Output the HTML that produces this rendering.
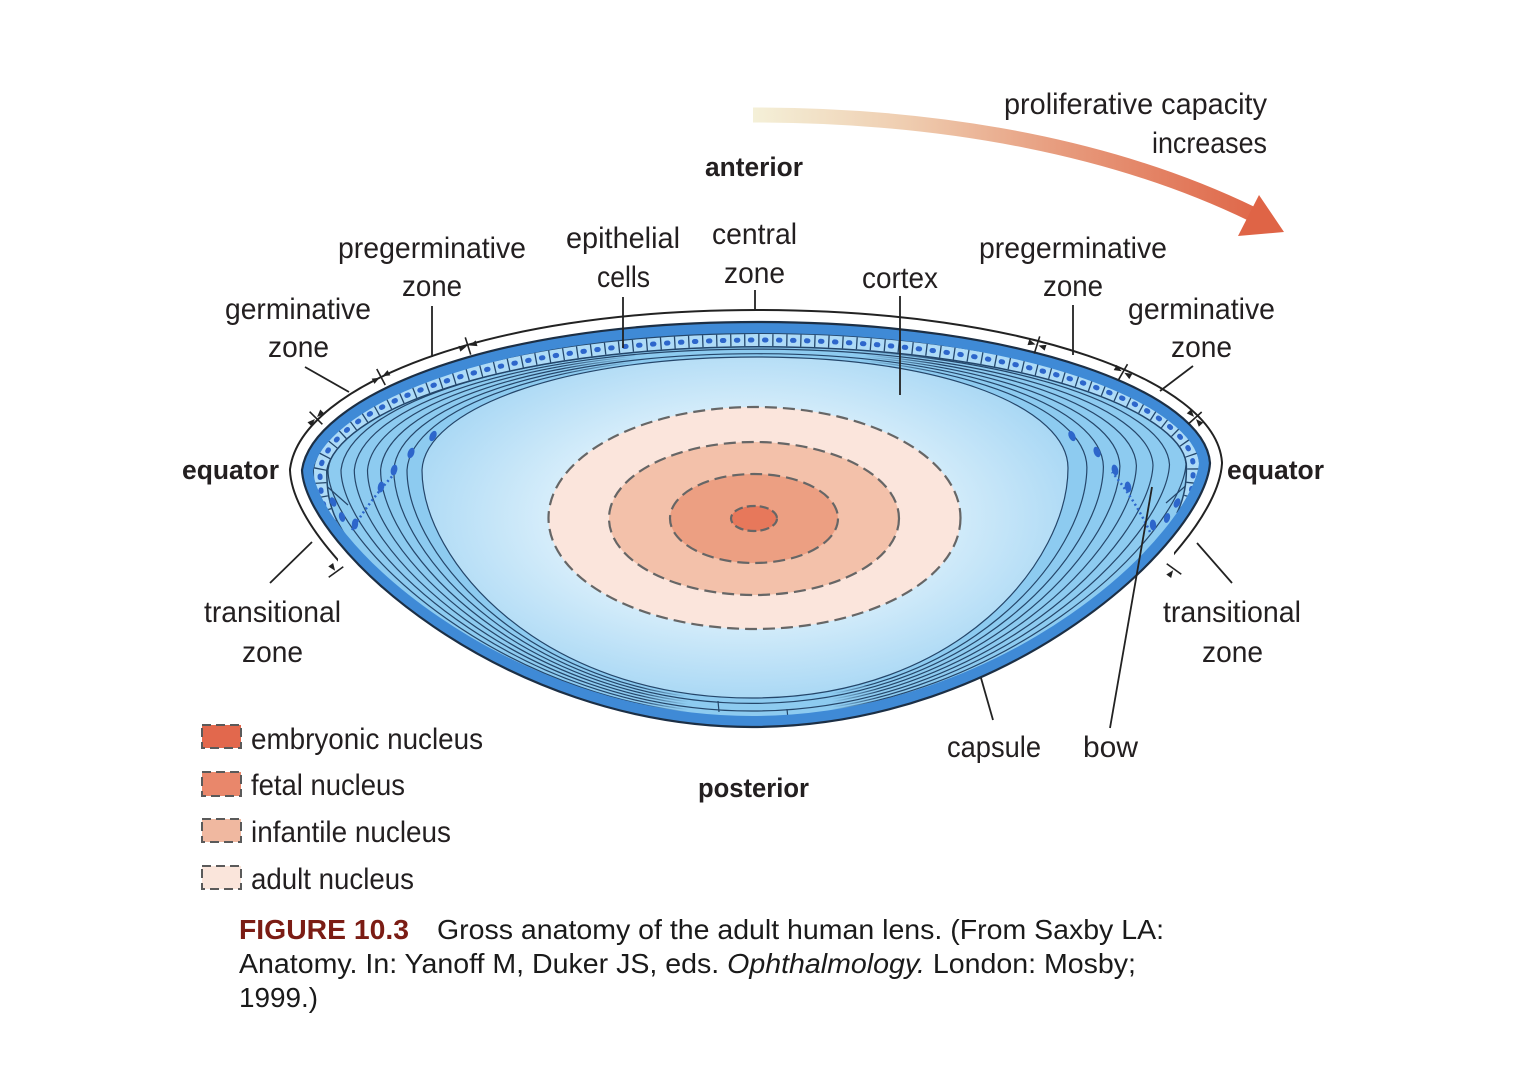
<!DOCTYPE html>
<html>
<head>
<meta charset="utf-8">
<style>
html,body{margin:0;padding:0;background:#fff;}
svg{display:block;}
text{font-family:"Liberation Sans",sans-serif;fill:#231f20;}
.l{font-size:30px;}
.b{font-size:27px;font-weight:bold;}
.lg{font-size:30px;}
.cap{font-size:28px;fill:#1a1a1a;}
</style>
</head>
<body>
<svg width="1520" height="1076" viewBox="0 0 1520 1076" xmlns="http://www.w3.org/2000/svg">
<defs>
  <linearGradient id="ag" gradientUnits="userSpaceOnUse" x1="753" y1="0" x2="1262" y2="0">
    <stop offset="0" stop-color="#f4f0d8"/>
    <stop offset="0.3" stop-color="#efcdb0"/>
    <stop offset="0.6" stop-color="#e79c7e"/>
    <stop offset="1" stop-color="#df6648"/>
  </linearGradient>
  <radialGradient id="cg" cx="0.5" cy="0.47" r="0.6">
    <stop offset="0" stop-color="#f2f9fe"/>
    <stop offset="0.45" stop-color="#dcf0fb"/>
    <stop offset="0.8" stop-color="#b4ddf6"/>
    <stop offset="1" stop-color="#9dd2f2"/>
  </radialGradient>
  <linearGradient id="fade" x1="0" x2="1" y1="0" y2="0">
    <stop offset="0" stop-color="#fff"/>
    <stop offset="0.2" stop-color="#000"/>
    <stop offset="0.8" stop-color="#000"/>
    <stop offset="1" stop-color="#fff"/>
  </linearGradient>
  <mask id="fm" maskUnits="userSpaceOnUse" x="0" y="0" width="1520" height="1076">
    <rect x="0" y="0" width="1520" height="1076" fill="#fff"/>
    <rect x="560" y="330" width="380" height="48" fill="url(#fade)"/>
    <rect x="640" y="686" width="240" height="36" fill="url(#fade)"/>
  </mask>
  <clipPath id="lc">
    <path d="M302,470 C312,400 480,322 757,322 C1030,322 1205,395 1210,463 C1205,540 1010,727 752,727 C500,727 305,545 302,470 Z"/>
  </clipPath>
  <clipPath id="bc">
    <rect x="0" y="0" width="1520" height="470"/>
    <rect x="0" y="470" width="338" height="160"/>
    <rect x="1174" y="470" width="346" height="160"/>
  </clipPath>
</defs>

<rect x="0" y="0" width="1520" height="1076" fill="#fff"/>

<!-- bracket ring -->
<g clip-path="url(#bc)">
  <path d="M302,470 C312,400 480,322 757,322 C1030,322 1205,395 1210,463 C1205,540 1010,727 752,727 C500,727 305,545 302,470 Z" fill="none" stroke="#222" stroke-width="26"/>
  <path d="M302,470 C312,400 480,322 757,322 C1030,322 1205,395 1210,463 C1205,540 1010,727 752,727 C500,727 305,545 302,470 Z" fill="none" stroke="#fff" stroke-width="22"/>
</g>

<!-- lens fill (fibre region) -->
<path d="M302,470 C312,400 480,322 757,322 C1030,322 1205,395 1210,463 C1205,540 1010,727 752,727 C500,727 305,545 302,470 Z" fill="#8dcbf0"/>

<!-- core -->
<path d="M422,470 C425,410 560,357 757,357 C950,357 1068,410 1068,468 C1068,560 960,698 752,698 C540,698 422,560 422,470 Z" fill="url(#cg)"/>

<!-- nuclei -->
<g stroke="#666" stroke-width="2.2" stroke-dasharray="12 6">
  <ellipse cx="754.5" cy="518" rx="206" ry="111" fill="#fbe5dc"/>
  <ellipse cx="754" cy="518.5" rx="145" ry="76.5" fill="#f3c1aa"/>
  <ellipse cx="754" cy="518.5" rx="84" ry="44.5" fill="#ec9f82"/>
  <ellipse cx="754" cy="518.5" rx="23" ry="12.5" fill="#e7785b" stroke-dasharray="9 4"/>
</g>

<!-- fibre lines -->
<g fill="none" stroke="#25466a" stroke-width="1.2" clip-path="url(#lc)">
  <g mask="url(#fm)">
    <path d="M328,470 C336,405 500,346 757,346 C1010,346 1182,405 1186,464 C1182,535 1000,716 752,716 C505,716 328,540 328,470 Z"/>
    <path d="M341,470 C348.5,405.7 508.4,347.5 757,347.5 C1001.6,347.5 1166,405.7 1169.5,464.6 C1166,538.5 994.4,713.5 752,713.5 C509.9,713.5 341.2,542.8 341,470 Z"/>
    <path d="M367.5,470 C373.4,407.1 525.2,350.6 757,350.6 C984.8,350.6 1134.1,407.1 1136.4,465.7 C1134.1,545.5 983.2,708.4 752,708.4 C519.7,708.4 367.5,548.4 367.5,470 Z"/>
    <path d="M380.6,470 C385.8,407.8 533.6,352.2 757,352.2 C976.4,352.2 1118.2,407.8 1119.9,466.2 C1118.2,549 977.6,705.9 752,705.9 C524.6,705.9 380.6,551.2 380.6,470 Z"/>
    <path d="M407,470 C410.8,409.2 550.4,355.2 757,355.2 C959.6,355.2 1086.2,409.2 1086.9,467.4 C1086.2,556 966.4,700.9 752,700.9 C534.4,700.9 407,556.8 407,470 Z"/>
  </g>
  <path d="M354.3,470 C360.9,406.4 516.8,349.1 757,349.1 C993.2,349.1 1150.1,406.4 1153,465.1 C1150.1,542 988.8,711 752,711 C514.8,711 354.3,545.6 354.3,470 Z"/>
  <path d="M393.8,470 C398.3,408.5 542,353.7 757,353.7 C968,353.7 1102.2,408.5 1103.4,466.8 C1102.2,552.5 972,703.4 752,703.4 C529.5,703.4 393.8,554 393.8,470 Z"/>
  <path d="M422,470 C425,410 560,357 757,357 C950,357 1068,410 1068,468 C1068,560 960,698 752,698 C540,698 422,560 422,470 Z"/>
  <!-- sutures at posterior pole -->
  <line x1="718" y1="701" x2="719" y2="712"/>
  <line x1="787" y1="709" x2="788" y2="719"/>
  <!-- transitional diagonal lines -->
  <line x1="314" y1="475" x2="348" y2="505"/>
  <line x1="322" y1="494" x2="348" y2="540"/>
  <line x1="331" y1="512" x2="354" y2="556"/>
  <line x1="1198" y1="475" x2="1166" y2="503"/>
  <line x1="1189" y1="497" x2="1163" y2="540"/>
  <line x1="1182" y1="515" x2="1158" y2="556"/>
</g>

<!-- bow nuclei -->
<g fill="#2d66cb">
  <ellipse cx="433" cy="436" rx="3.2" ry="5.5" transform="rotate(25 433 436)"/>
  <ellipse cx="411" cy="453" rx="3.2" ry="5.5" transform="rotate(20 411 453)"/>
  <ellipse cx="394" cy="470" rx="3.2" ry="5.5" transform="rotate(15 394 470)"/>
  <ellipse cx="381" cy="487" rx="3.2" ry="5.5" transform="rotate(10 381 487)"/>
  <ellipse cx="355" cy="524" rx="3.2" ry="5.5" transform="rotate(5 355 524)"/>
  <ellipse cx="1072" cy="436" rx="3.2" ry="5.5" transform="rotate(-25 1072 436)"/>
  <ellipse cx="1097" cy="452" rx="3.2" ry="5.5" transform="rotate(-20 1097 452)"/>
  <ellipse cx="1115" cy="470" rx="3.2" ry="5.5" transform="rotate(-15 1115 470)"/>
  <ellipse cx="1128" cy="487" rx="3.2" ry="5.5" transform="rotate(-10 1128 487)"/>
  <ellipse cx="1153" cy="525" rx="3.2" ry="5.5" transform="rotate(-5 1153 525)"/>
</g>
<g fill="none" stroke="#2d66cb" stroke-width="2.5" stroke-dasharray="2 3">
  <path d="M352,530 Q370,500 396,472"/>
  <path d="M1150,532 Q1135,500 1112,472"/>
</g>

<!-- epithelium -->
<g fill="none" clip-path="url(#lc)">
  <path d="M331,524 C322,506 320,490 320,470 C331,405 500,341 757,340 C1016,340 1186,402 1193,463 C1194,485 1190,502 1183,516" stroke="#23466b" stroke-width="15"/>
  <path d="M331,524 C322,506 320,490 320,470 C331,405 500,341 757,340 C1016,340 1186,402 1193,463 C1194,485 1190,502 1183,516" stroke="#aedbf7" stroke-width="12"/>
  <path d="M331,524 C322,506 320,490 320,470 C331,405 500,341 757,340 C1016,340 1186,402 1193,463 C1194,485 1190,502 1183,516" stroke="#23466b" stroke-width="12" stroke-dasharray="1.3 12.7"/>
  <path d="M331,524 C322,506 320,490 320,470 C331,405 500,341 757,340 C1016,340 1186,402 1193,463 C1194,485 1190,502 1183,516" stroke="#2d66cb" stroke-width="5" stroke-dasharray="1.5 12.5" stroke-dashoffset="-6.25" stroke-linecap="round"/>
</g>
<g fill="#2d66cb">
  <ellipse cx="342" cy="517" rx="3" ry="5" transform="rotate(-15 342 517)"/>
  <ellipse cx="333" cy="502" rx="3" ry="5" transform="rotate(-25 333 502)"/>
  <ellipse cx="1167" cy="518" rx="3" ry="5" transform="rotate(15 1167 518)"/>
  <ellipse cx="1177" cy="503" rx="3" ry="5" transform="rotate(25 1177 503)"/>
</g>

<!-- capsule band + outline -->
<path d="M302,470 C312,400 480,322 757,322 C1030,322 1205,395 1210,463 C1205,540 1010,727 752,727 C500,727 305,545 302,470 Z" fill="none" stroke="#3f8ad6" stroke-width="22" clip-path="url(#lc)"/>
<path d="M302,470 C312,400 480,322 757,322 C1030,322 1205,395 1210,463 C1205,540 1010,727 752,727 C500,727 305,545 302,470 Z" fill="none" stroke="#1c2f45" stroke-width="2.2"/>

<!-- ticks -->
<g stroke="#222" stroke-width="1.6" fill="#222">
  <g transform="translate(468,346) rotate(-17.6)"><line x1="0" y1="-9" x2="0" y2="9"/><path d="M-1.5,0 L-9,-3 L-9,3 Z" stroke="none"/><path d="M1.5,0 L9,-3 L9,3 Z" stroke="none"/></g>
  <g transform="translate(381,377) rotate(-28)"><line x1="0" y1="-9" x2="0" y2="9"/><path d="M-1.5,0 L-9,-3 L-9,3 Z" stroke="none"/><path d="M1.5,0 L9,-3 L9,3 Z" stroke="none"/></g>
  <g transform="translate(316,418) rotate(-45)"><line x1="0" y1="-9" x2="0" y2="9"/><path d="M-1.5,0 L-9,-3 L-9,3 Z" stroke="none"/><path d="M1.5,0 L9,-3 L9,3 Z" stroke="none"/></g>
  <g transform="translate(336,572) rotate(54)"><line x1="0" y1="-9" x2="0" y2="9"/><path d="M-1.5,0 L-9,-3 L-9,3 Z" stroke="none"/></g>
  <g transform="translate(1037,345) rotate(17.6)"><line x1="0" y1="-9" x2="0" y2="9"/><path d="M-1.5,0 L-9,-3 L-9,3 Z" stroke="none"/><path d="M1.5,0 L9,-3 L9,3 Z" stroke="none"/></g>
  <g transform="translate(1123,372) rotate(30)"><line x1="0" y1="-9" x2="0" y2="9"/><path d="M-1.5,0 L-9,-3 L-9,3 Z" stroke="none"/><path d="M1.5,0 L9,-3 L9,3 Z" stroke="none"/></g>
  <g transform="translate(1195,418) rotate(48)"><line x1="0" y1="-9" x2="0" y2="9"/><path d="M-1.5,0 L-9,-3 L-9,3 Z" stroke="none"/><path d="M1.5,0 L9,-3 L9,3 Z" stroke="none"/></g>
  <g transform="translate(1174,569) rotate(-54)"><line x1="0" y1="-9" x2="0" y2="9"/><path d="M-1.5,0 L-9,-3 L-9,3 Z" stroke="none"/></g>
</g>

<!-- leader lines -->
<g stroke="#222" stroke-width="1.8">
  <line x1="305" y1="367" x2="349" y2="392"/>
  <line x1="432" y1="306" x2="432" y2="357"/>
  <line x1="623" y1="297" x2="623" y2="348"/>
  <line x1="755" y1="290" x2="755" y2="311"/>
  <line x1="900" y1="296" x2="900" y2="395"/>
  <line x1="1073" y1="305" x2="1073" y2="355"/>
  <line x1="1193" y1="366" x2="1160" y2="391"/>
  <line x1="270" y1="583" x2="312" y2="542"/>
  <line x1="1232" y1="583" x2="1197" y2="543"/>
  <line x1="993" y1="720" x2="981" y2="678"/>
  <line x1="1110" y1="728" x2="1152" y2="487"/>
</g>

<!-- arrow -->
<path d="M753,115 C950,115 1120,150 1252,214" fill="none" stroke="url(#ag)" stroke-width="15"/>
<polygon points="1259,195 1284,232 1238,236" fill="#df6446"/>

<!-- labels -->
<text class="l" x="1004" y="114" textLength="263" lengthAdjust="spacingAndGlyphs">proliferative capacity</text>
<text class="l" x="1152" y="153" textLength="115" lengthAdjust="spacingAndGlyphs">increases</text>
<text class="b" x="705" y="176" textLength="98" lengthAdjust="spacingAndGlyphs">anterior</text>

<text class="l" x="338" y="258" textLength="188" lengthAdjust="spacingAndGlyphs">pregerminative</text>
<text class="l" x="402" y="296" textLength="60" lengthAdjust="spacingAndGlyphs">zone</text>
<text class="l" x="566" y="248" textLength="114" lengthAdjust="spacingAndGlyphs">epithelial</text>
<text class="l" x="597" y="287" textLength="53" lengthAdjust="spacingAndGlyphs">cells</text>
<text class="l" x="712" y="244" textLength="85" lengthAdjust="spacingAndGlyphs">central</text>
<text class="l" x="724" y="283" textLength="61" lengthAdjust="spacingAndGlyphs">zone</text>
<text class="l" x="862" y="288" textLength="76" lengthAdjust="spacingAndGlyphs">cortex</text>
<text class="l" x="979" y="258" textLength="188" lengthAdjust="spacingAndGlyphs">pregerminative</text>
<text class="l" x="1043" y="296" textLength="60" lengthAdjust="spacingAndGlyphs">zone</text>

<text class="l" x="225" y="319" textLength="146" lengthAdjust="spacingAndGlyphs">germinative</text>
<text class="l" x="268" y="357" textLength="61" lengthAdjust="spacingAndGlyphs">zone</text>
<text class="l" x="1128" y="319" textLength="147" lengthAdjust="spacingAndGlyphs">germinative</text>
<text class="l" x="1171" y="357" textLength="61" lengthAdjust="spacingAndGlyphs">zone</text>

<text class="b" x="182" y="479" textLength="97" lengthAdjust="spacingAndGlyphs">equator</text>
<text class="b" x="1227" y="479" textLength="97" lengthAdjust="spacingAndGlyphs">equator</text>

<text class="l" x="204" y="622" textLength="137" lengthAdjust="spacingAndGlyphs">transitional</text>
<text class="l" x="242" y="662" textLength="61" lengthAdjust="spacingAndGlyphs">zone</text>
<text class="l" x="1163" y="622" textLength="138" lengthAdjust="spacingAndGlyphs">transitional</text>
<text class="l" x="1202" y="662" textLength="61" lengthAdjust="spacingAndGlyphs">zone</text>

<text class="l" x="947" y="757" textLength="94" lengthAdjust="spacingAndGlyphs">capsule</text>
<text class="l" x="1083" y="757" textLength="55" lengthAdjust="spacingAndGlyphs">bow</text>
<text class="b" x="698" y="797" textLength="111" lengthAdjust="spacingAndGlyphs">posterior</text>

<!-- legend -->
<g stroke="#5a5a5a" stroke-width="2" stroke-dasharray="9 5">
  <rect x="202" y="725" width="39" height="23" fill="#e2684d"/>
  <rect x="202" y="772" width="39" height="24" fill="#e9876b"/>
  <rect x="202" y="819" width="39" height="23" fill="#f0b8a0"/>
  <rect x="202" y="866" width="39" height="23" fill="#fae5db"/>
</g>
<text class="lg" x="251" y="749" textLength="232" lengthAdjust="spacingAndGlyphs">embryonic nucleus</text>
<text class="lg" x="251" y="795" textLength="154" lengthAdjust="spacingAndGlyphs">fetal nucleus</text>
<text class="lg" x="251" y="842" textLength="200" lengthAdjust="spacingAndGlyphs">infantile nucleus</text>
<text class="lg" x="251" y="889" textLength="163" lengthAdjust="spacingAndGlyphs">adult nucleus</text>

<!-- caption -->
<text x="239" y="939" style="font-size:28px;font-weight:bold;fill:#7b1c14;" textLength="170" lengthAdjust="spacingAndGlyphs">FIGURE 10.3</text>
<text class="cap" x="437" y="939" textLength="727" lengthAdjust="spacingAndGlyphs">Gross anatomy of the adult human lens. (From Saxby LA:</text>
<text class="cap" x="239" y="973" textLength="897" lengthAdjust="spacingAndGlyphs">Anatomy. In: Yanoff M, Duker JS, eds. <tspan font-style="italic">Ophthalmology.</tspan> London: Mosby;</text>
<text class="cap" x="239" y="1007" textLength="79" lengthAdjust="spacingAndGlyphs">1999.)</text>
</svg>
</body>
</html>
